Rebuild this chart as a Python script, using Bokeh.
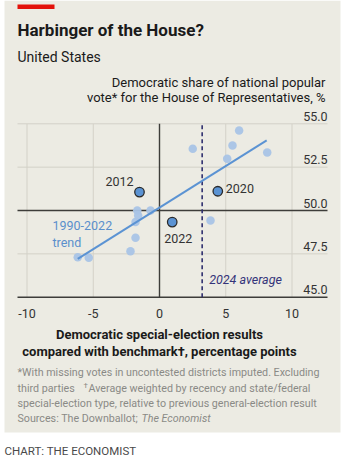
from bokeh.plotting import figure
from bokeh.models import Range1d
from bokeh.core.properties import value
from bokeh.embed import file_html
from bokeh.resources import INLINE

# ---------------- data ----------------
light_x = [-6.17, -5.34, -2.19, -1.81, -1.81, -1.68, -1.61, -0.68, 2.51, 3.85, 5.11, 5.51, 6.01, 8.13]
light_y = [47.31, 47.27, 47.65, 48.43, 49.33, 50.0, 49.71, 50.0, 53.56, 49.42, 52.98, 53.75, 54.61, 53.34]
hi_years = ["2012", "2020", "2022"]
hi_x = [-1.51, 4.40, 0.96]
hi_y = [51.06, 51.11, 49.33]
trend_x = [-6.17, 8.09]
trend_y = [47.21, 54.04]
avg_2024 = 3.22
x_ticks = [-10, -5, 0, 5, 10]
x_tick_labels = ["-10", "-5", "0", "5", "10"]
y_ticks = [45.0, 47.5, 50.0, 52.5, 55.0]
y_tick_labels = ["45.0", "47.5", "50.0", "52.5", "55.0"]

# ---------------- layout helpers ----------------
W, H = 344, 460
PX_PER_X, X0_PX = 13.25, 159.0
PX_PER_Y, Y50_PX = 17.34, 210.0


def dx(px):
    return (px - X0_PX) / PX_PER_X


def dy(py):
    return 50 + (Y50_PX - py) / PX_PER_Y


FONT = value("Roboto")
BG = "#ecebe3"
GRID = "#d3d1c8"
DARK = "#3d3d3a"

p = figure(width=W, height=H, output_backend="svg", toolbar_location=None,
           x_range=Range1d(dx(0), dx(W)), y_range=Range1d(dy(H), dy(0)),
           min_border=0, outline_line_color=None)
p.axis.visible = False
p.grid.visible = False
p.background_fill_color = "white"
p.border_fill_color = "white"

# beige panel
p.quad(left=[dx(4)], right=[dx(340)], top=[dy(0)], bottom=[dy(432)],
       fill_color=BG, line_color=None)
# red bar
p.quad(left=[dx(17)], right=[dx(54)], top=[dy(4)], bottom=[dy(8.5)],
       fill_color="#e3120b", line_color=None)

xl, xr = dx(17), dx(327)
ymin, ymax = min(y_ticks), max(y_ticks)

# grid lines
gx = [t for t in x_ticks if t != 0]
p.segment(x0=gx, x1=gx, y0=[ymin] * len(gx), y1=[ymax] * len(gx), line_color=GRID, line_width=1)
gy = [t for t in y_ticks if t not in (45.0, 50.0)]
p.segment(x0=[xl] * len(gy), x1=[xr] * len(gy), y0=gy, y1=gy, line_color=GRID, line_width=1)
# dark zero / baseline lines
p.segment(x0=[0], x1=[0], y0=[ymin], y1=[ymax], line_color=DARK, line_width=1.4)
p.segment(x0=[xl, xl], x1=[xr, xr], y0=[50.0, 45.0], y1=[50.0, 45.0], line_color=DARK, line_width=1.4)

# 2024 average dashed line
p.segment(x0=[avg_2024], x1=[avg_2024], y0=[ymin], y1=[ymax], line_color="#2f2f6e",
          line_width=1.6, line_dash="4 3")

# points
p.scatter(light_x, light_y, size=8.5, fill_color="#a9c4e6", line_color=None, fill_alpha=0.95)
p.line(trend_x, trend_y, line_color="#5b93d3", line_width=2)
p.scatter(hi_x, hi_y, size=9.5, fill_color="#5b93d3", line_color="#2b2b2b", line_width=1.3)

# year labels
lab_font_size = "12.5px"
p.text(x=[hi_x[0]], y=[hi_y[0]], text=[hi_years[0]], text_align="right", text_baseline="middle",
       x_offset=-6, y_offset=-11, text_font=FONT, text_font_size=lab_font_size, text_color="#333333")
p.text(x=[hi_x[1]], y=[hi_y[1]], text=[hi_years[1]], text_align="left", text_baseline="middle",
       x_offset=8, y_offset=-3, text_font=FONT, text_font_size=lab_font_size, text_color="#333333")
p.text(x=[hi_x[2]], y=[hi_y[2]], text=[hi_years[2]], text_align="left", text_baseline="middle",
       x_offset=-8, y_offset=16, text_font=FONT, text_font_size=lab_font_size, text_color="#333333")

# trend label
p.text(x=[dx(52), dx(52)], y=[dy(225), dy(241.5)], text=["1990-2022", "trend"],
       text_align="left", text_baseline="middle", text_font=FONT, text_font_size="12.5px",
       text_color="#5a8fcc")
# 2024 average label
p.text(x=[avg_2024], y=[dy(279)], text=["2024 average"], x_offset=7,
       text_align="left", text_baseline="middle", text_font=FONT, text_font_size="12.5px",
       text_font_style="italic", text_color="#34347a")

# y tick labels (inside, right, above gridlines)
p.text(x=[xr] * len(y_ticks), y=y_ticks, text=y_tick_labels, y_offset=-3,
       text_align="right", text_baseline="bottom", text_font=FONT, text_font_size="12.5px",
       text_color="#333333")
# x tick labels
p.text(x=x_ticks, y=[dy(313)] * len(x_ticks), text=x_tick_labels,
       text_align="center", text_baseline="middle", text_font=FONT, text_font_size="12.5px",
       text_color="#333333")

# title / subtitle
p.text(x=[dx(17)], y=[dy(29)], text=["Harbinger of the House?"], text_align="left",
       text_baseline="middle", text_font=FONT, text_font_size="17px", text_font_style="bold",
       text_color="#1a1a1a")
p.text(x=[dx(17)], y=[dy(56)], text=["United States"], text_align="left",
       text_baseline="middle", text_font=FONT, text_font_size="14px", text_color="#1a1a1a")

# y axis title
p.text(x=[dx(325), dx(325)], y=[dy(81.5), dy(97)],
       text=["Democratic share of national popular", "vote* for the House of Representatives, %"],
       text_align="right", text_baseline="middle", text_font=FONT, text_font_size="13px",
       text_color="#1a1a1a")

# x axis title
p.text(x=[dx(159), dx(159)], y=[dy(333.5), dy(351)],
       text=["Democratic special-election results", "compared with benchmark\u2020, percentage points"],
       text_align="center", text_baseline="middle", text_font=FONT, text_font_size="13px",
       text_font_style="bold", text_color="#1a1a1a")

# footnotes
NOTE = "#8a8a86"
NOTE_SIZE = "10.7px"
p.text(x=[dx(17)] * 4, y=[dy(371.5), dy(387.5), dy(403.3), dy(418.3)],
       text=["*With missing votes in uncontested districts imputed. Excluding",
             "third parties",
             "special-election type, relative to previous general-election result",
             "Sources: The Downballot;"],
       text_align="left", text_baseline="middle", text_font=FONT, text_font_size=NOTE_SIZE,
       text_color=NOTE)
p.text(x=[dx(83)], y=[dy(384.5)], text=["\u2020"], text_align="left",
       text_baseline="middle", text_font=FONT, text_font_size="8px", text_color=NOTE)
p.text(x=[dx(88)], y=[dy(387.5)], text=["Average weighted by recency and state/federal"],
       text_align="left", text_baseline="middle", text_font=FONT, text_font_size=NOTE_SIZE,
       text_color=NOTE)
p.text(x=[dx(141)], y=[dy(418.3)], text=["The Economist"], text_align="left",
       text_baseline="middle", text_font=FONT, text_font_size=NOTE_SIZE, text_font_style="italic",
       text_color=NOTE)

p.text(x=[dx(4)], y=[dy(450)], text=["CHART: THE ECONOMIST"], text_align="left",
       text_baseline="middle", text_font=FONT, text_font_size="11.5px", text_color="#4a4a4a")

open("out.html", "w").write(file_html(p, INLINE))
